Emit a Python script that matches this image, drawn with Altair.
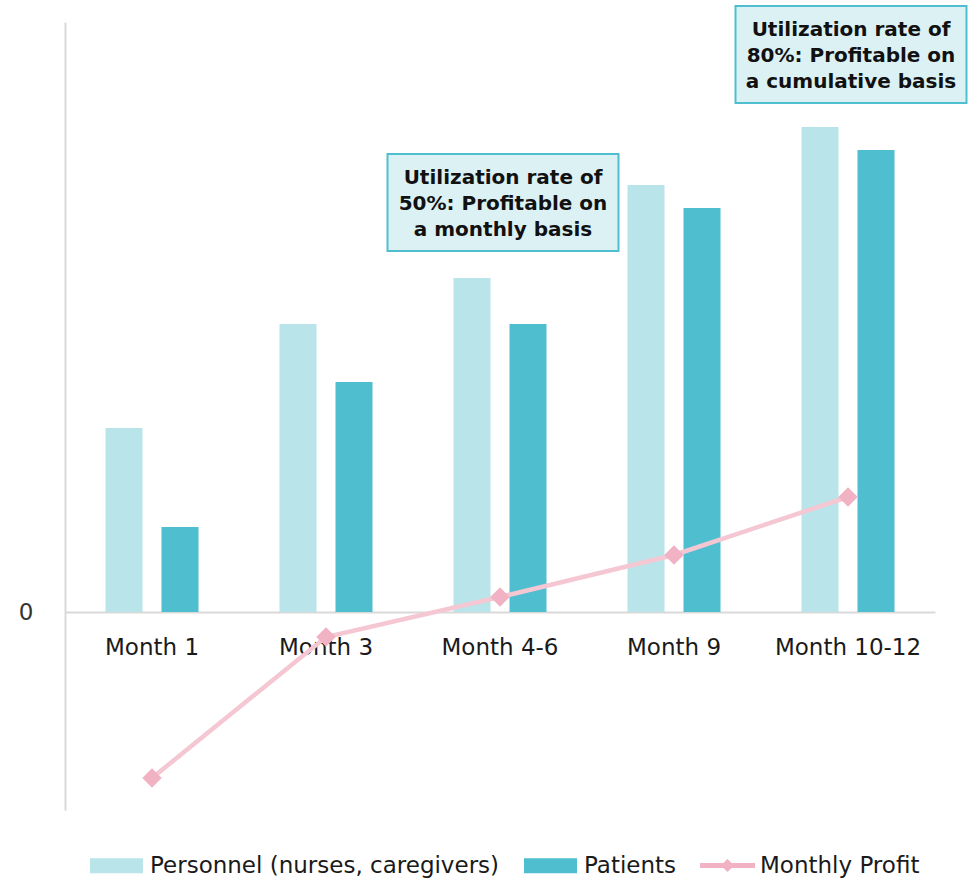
import altair as alt
import pandas as pd

# Chart values
months = ["Month 1", "Month 3", "Month 4-6", "Month 9", "Month 10-12"]
series_names = ["Personnel (nurses, caregivers)", "Patients"]
personnel = [184, 288, 334, 427, 485]
patients = [85, 230, 288, 404, 462]
monthly_profit = [-166, -25, 15, 57, 115]

# Callout boxes
note_months = ["Month 4-6", "Month 10-12"]
note_top = [458, 606]
note_bottom = [361, 509]
note_text = [
    "Utilization rate of\n50%: Profitable on\na monthly basis",
    "Utilization rate of\n80%: Profitable on\na cumulative basis",
]

FONT = "DejaVu Sans"
LIGHT = "#b9e4ea"
DARK = "#4fbfcf"
PINK_LINE = "#f5c7d3"
PINK_MARK = "#f1b2c3"

bars_df = pd.DataFrame(
    [{"month": m, "series": series_names[0], "value": v} for m, v in zip(months, personnel)]
    + [{"month": m, "series": series_names[1], "value": v} for m, v in zip(months, patients)]
)
profit_df = pd.DataFrame({"month": months, "profit": monthly_profit, "name": "Monthly Profit"})
notes_df = pd.DataFrame({"month": note_months, "top": note_top, "bottom": note_bottom, "text": note_text})

y_scale = alt.Scale(domain=[-198, 590], nice=False, zero=False)

x_enc = alt.X(
    "month:N",
    sort=months,
    scale=alt.Scale(paddingInner=0, paddingOuter=0),
    axis=alt.Axis(
        title=None, labelAngle=0, offset=-198, ticks=False,
        domainColor="#d9d9d9", domainWidth=2,
        labelFont=FONT, labelFontSize=23, labelColor="#1a1a1a", labelPadding=24,
    ),
)

bar_legend_path = "M-1,-0.283H1V0.283H-1Z"
line_legend_path = "M-1,-0.09H1V0.09H-1Z M0,-0.24L0.24,0L0,0.24L-0.24,0Z"

bars = alt.Chart(bars_df).mark_bar().encode(
    x=x_enc,
    xOffset=alt.XOffset("series:N", sort=series_names,
                        scale=alt.Scale(paddingInner=0.339, paddingOuter=0.723)),
    y=alt.Y(
        "value:Q", scale=y_scale,
        axis=alt.Axis(
            title=None, values=[0], ticks=False, grid=False,
            domainColor="#d9d9d9", domainWidth=2,
            labelFont=FONT, labelFontSize=23, labelColor="#333333", labelPadding=32,
        ),
    ),
    color=alt.Color(
        "series:N",
        scale=alt.Scale(domain=series_names, range=[LIGHT, DARK]),
        legend=alt.Legend(
            title=None, orient="none", direction="horizontal",
            legendX=25, legendY=817, padding=0,
            symbolType=bar_legend_path, symbolSize=2809, symbolStrokeWidth=0,
            labelFont=FONT, labelFontSize=23, labelColor="#1a1a1a",
            labelLimit=500, labelOffset=7, columnPadding=24,
        ),
    ),
)

line = alt.Chart(profit_df).mark_line(color=PINK_LINE, strokeWidth=4.5).encode(
    x=alt.X("month:N", sort=months),
    y=alt.Y("profit:Q", scale=y_scale),
)

points = alt.Chart(profit_df).mark_point(shape="diamond", filled=True, size=380, opacity=1).encode(
    x=alt.X("month:N", sort=months),
    y=alt.Y("profit:Q", scale=y_scale),
    fill=alt.Fill(
        "name:N",
        scale=alt.Scale(domain=["Monthly Profit"], range=[PINK_MARK]),
        legend=alt.Legend(
            title=None, orient="none", direction="horizontal",
            legendX=635, legendY=816, padding=0,
            symbolType=line_legend_path, symbolSize=3025, symbolStrokeWidth=0,
            labelFont=FONT, labelFontSize=23, labelColor="#1a1a1a",
            labelLimit=500, labelOffset=5,
        ),
    ),
)

boxes = alt.Chart(notes_df).mark_bar(
    width=231, fill="#dcf1f4", stroke=DARK, strokeWidth=2, clip=False, xOffset=3
).encode(
    x=alt.X("month:N", sort=months),
    y=alt.Y("top:Q", scale=y_scale),
    y2="bottom:Q",
)

labels = alt.Chart(notes_df).transform_calculate(
    mid="(datum.top + datum.bottom) / 2"
).mark_text(
    lineBreak="\n", font=FONT, fontSize=20, fontWeight="bold", lineHeight=26,
    baseline="middle", align="center", color="#111111", dx=3, dy=-25
).encode(
    x=alt.X("month:N", sort=months),
    y=alt.Y("mid:Q", scale=y_scale),
    text="text:N",
)

chart = alt.layer(bars, line, points, boxes, labels).resolve_legend(
    color="independent", fill="independent"
).properties(
    width=870,
    height=788,
    autosize=alt.AutoSizeParams(type="none"),
    padding={"left": 65, "top": 22, "right": 33, "bottom": 70},
).configure_view(stroke=None)

chart.save("out.html", embed_options={"renderer": "svg", "actions": False})
